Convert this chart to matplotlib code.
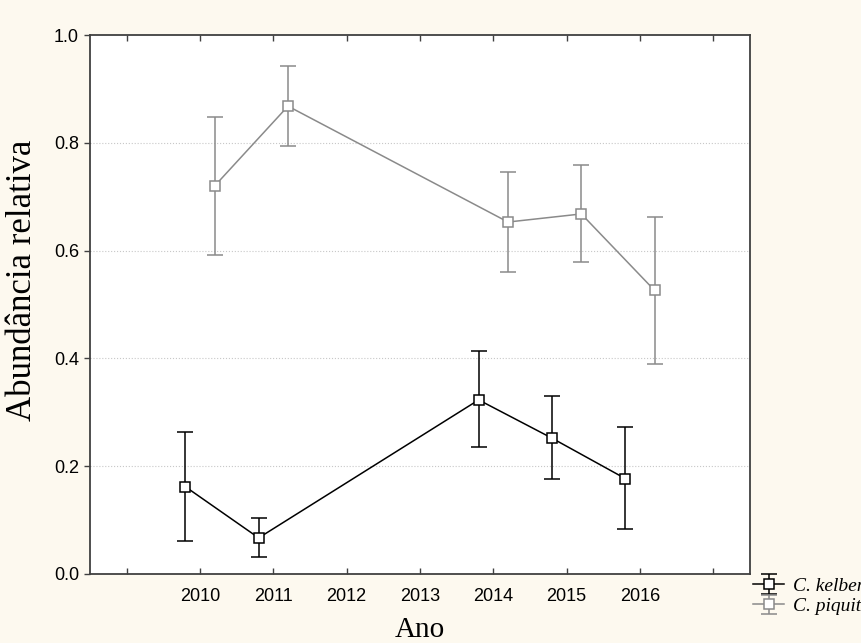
import matplotlib.pyplot as plt
import numpy as np

# anos (categorias do eixo x); posicoes 0 e 8 ficam sem rotulo
anos = ['2010', '2011', '2012', '2013', '2014', '2015', '2016']

# C. kelberi (sem dados em 2012 e 2013)
kel_anos = ['2010', '2011', '2014', '2015', '2016']
kel_media = [0.162, 0.067, 0.323, 0.252, 0.177]
kel_sup = [0.264, 0.104, 0.413, 0.330, 0.272]
kel_inf = [0.062, 0.032, 0.235, 0.176, 0.083]

# C. piquiti
piq_anos = ['2010', '2011', '2014', '2015', '2016']
piq_media = [0.720, 0.868, 0.653, 0.668, 0.526]
piq_sup = [0.848, 0.943, 0.745, 0.758, 0.662]
piq_inf = [0.592, 0.794, 0.561, 0.578, 0.390]

fundo = '#fdf9ef'
cinza = '#8a8a8a'


def posicoes(lista, desloc):
    return np.array([anos.index(a) + 1 for a in lista]) + desloc


def main():
    fig = plt.figure(figsize=(8.62, 6.43), dpi=100, facecolor=fundo)
    ax = fig.add_axes([90/862, 69/643, 660/862, 539/643])
    ax.set_facecolor('white')

    series = [
        (kel_anos, kel_media, kel_sup, kel_inf, 'black', -0.2, 'C. kelberi'),
        (piq_anos, piq_media, piq_sup, piq_inf, cinza, 0.2, 'C. piquiti'),
    ]
    handles = []
    for lista, media, sup, inf, cor, desloc, nome in series:
        x = posicoes(lista, desloc)
        media = np.array(media)
        err = [media - np.array(inf), np.array(sup) - media]
        h = ax.errorbar(x, media, yerr=err, color=cor, lw=1.1, elinewidth=1.1,
                        capsize=6, capthick=1.1, marker='s', ms=7,
                        mfc='white', mec=cor, mew=1.1, label=nome, zorder=3)
        handles.append(h)

    ax.set_xlim(-0.5, 8.5)
    ax.set_ylim(0, 1.0)
    ax.set_xticks(range(9))
    ax.set_xticklabels([''] + anos + [''])
    ax.set_yticks(np.arange(0, 1.01, 0.2))
    ax.set_yticklabels([f'{v:.1f}' for v in np.arange(0, 1.01, 0.2)])

    for v in [0.2, 0.4, 0.6, 0.8]:
        ax.axhline(v, color='#c8c8c8', lw=0.8, ls=':', zorder=1)

    for s in ax.spines.values():
        s.set_color('#404040')
        s.set_linewidth(1.3)

    ax.tick_params(axis='x', direction='in', length=4, width=1, top=True,
                   color='#404040', labelsize=13, pad=10)
    ax.tick_params(axis='y', direction='out', length=4, width=1,
                   color='#404040', labelsize=13, pad=4)
    for t in ax.get_xticklabels() + ax.get_yticklabels():
        t.set_family('Liberation Sans')

    ax.set_xlabel('Ano', fontsize=21, family='Liberation Serif')
    ax.xaxis.set_label_coords(0.5, -0.08)
    ax.set_ylabel('Abundância relativa', fontsize=25, family='Liberation Serif')
    ax.yaxis.set_label_coords(-0.077, 0.545)

    fig.legend(handles=handles, loc='upper left',
               bbox_to_anchor=(753/862, 1 - 577/643),
               frameon=False, borderpad=0, borderaxespad=0,
               handlelength=1.6, handletextpad=0.45, labelspacing=0.15,
               prop={'family': 'Liberation Serif', 'style': 'italic', 'size': 14})

    plt.savefig('out.png', dpi=100, facecolor=fundo)


if __name__ == '__main__':
    main()
